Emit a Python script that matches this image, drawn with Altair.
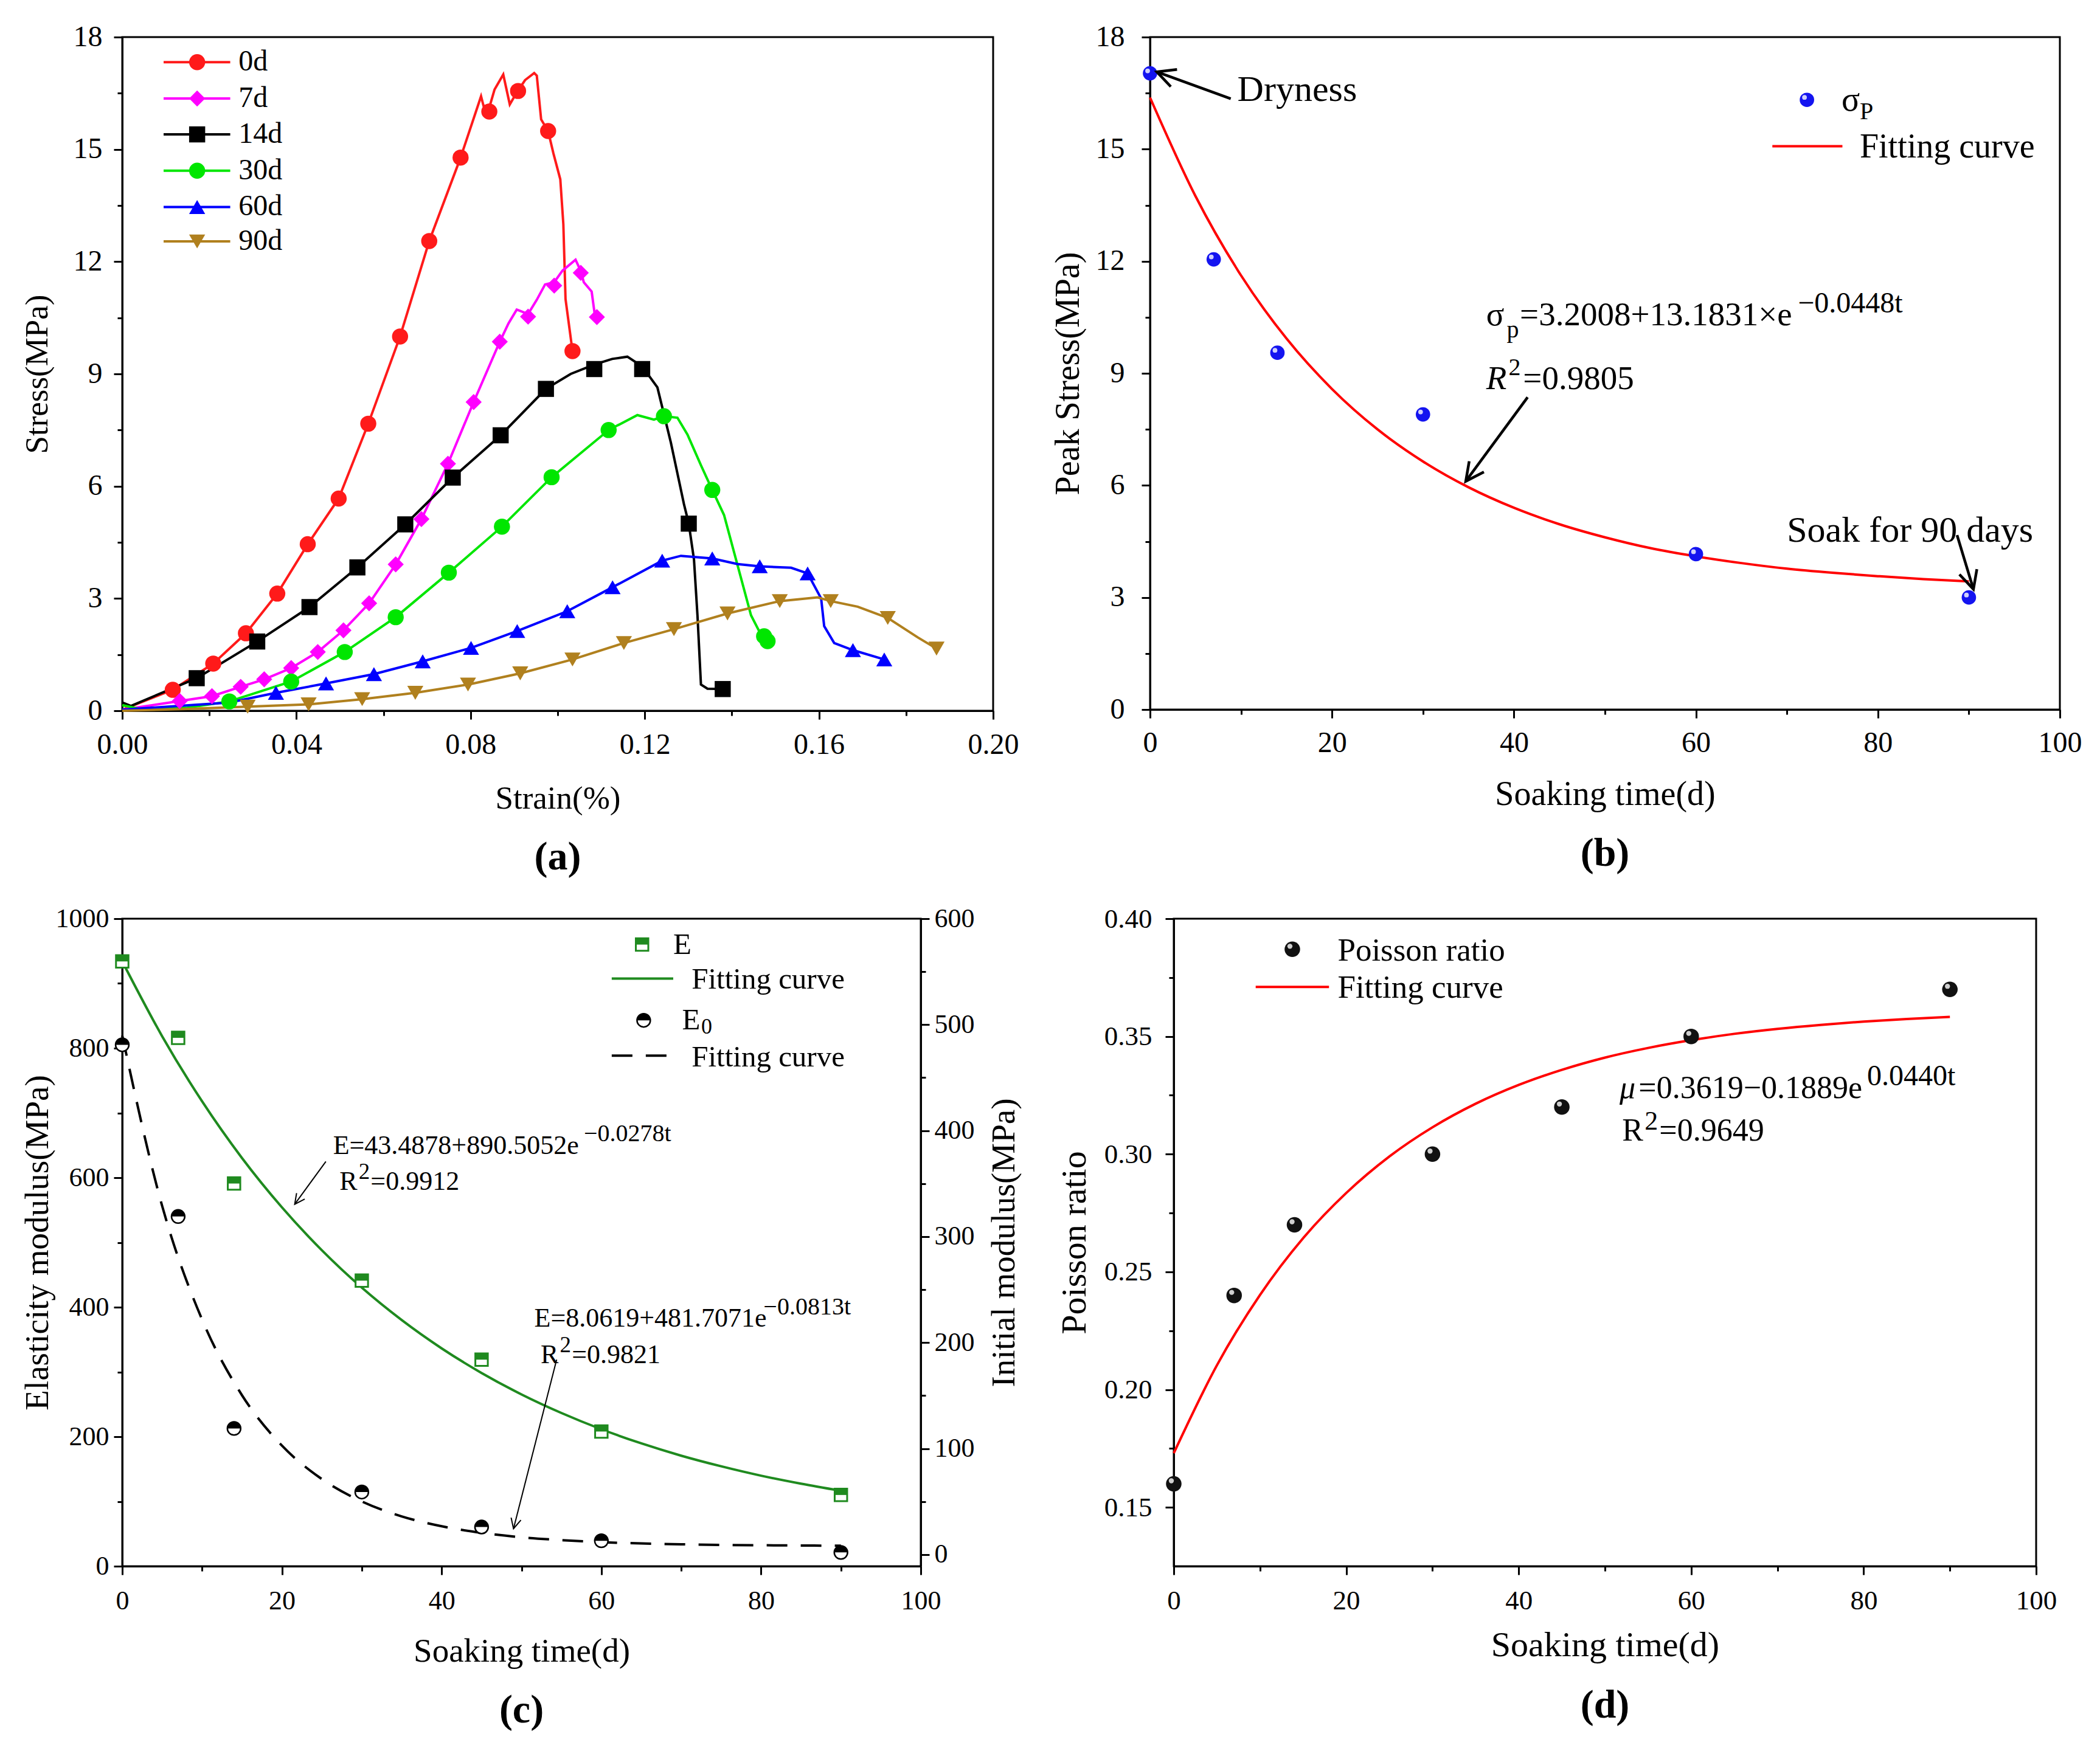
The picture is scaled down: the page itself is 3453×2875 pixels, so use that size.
import json
import math
import altair as alt
import pandas as pd

FONT = "Liberation Serif"
ARROW = "M -1 -0.5 L 0 0 L -1 0.5"
HALF_SQ = "M -1 -1 L 1 -1 L 1 0 L -1 0 Z"
HALF_CI = "M -1 0 A 1 1 0 0 1 1 0 Z"

# ====================== (a) stress-strain data ======================
SERIES = ["0d", "7d", "14d", "30d", "60d", "90d"]
COLORS_A = ["#FF1A1A", "#FF00FF", "#000000", "#00E600", "#0000FF", "#B0801E"]
SHAPES_A = ["circle", "diamond", "square", "circle", "triangle-up", "triangle-down"]

L0 = [(0.0005, 0.05), (0.0116, 0.56), (0.0209, 1.26), (0.0284, 2.07), (0.0356, 3.13), (0.0426, 4.45),
      (0.0497, 5.67), (0.0565, 7.67), (0.0638, 10.0), (0.0705, 12.55), (0.0777, 14.78), (0.0824, 16.42),
      (0.0830, 16.15), (0.0845, 16.2), (0.0855, 16.6), (0.0875, 17.0), (0.0890, 16.2), (0.0905, 16.5),
      (0.0925, 16.85), (0.0946, 17.04), (0.0952, 16.97), (0.0962, 15.8), (0.0978, 15.49), (0.0990, 14.9),
      (0.1006, 14.2), (0.1013, 13.0), (0.1018, 11.0), (0.1034, 9.61)]
M0 = [(0.0116, 0.56), (0.0209, 1.26), (0.0284, 2.07), (0.0356, 3.13), (0.0426, 4.45), (0.0497, 5.67),
      (0.0565, 7.67), (0.0638, 10.0), (0.0705, 12.55), (0.0777, 14.78), (0.0843, 16.01), (0.0909, 16.56),
      (0.0978, 15.49), (0.1034, 9.61)]

L7 = [(0.0, 0.03), (0.0132, 0.26), (0.0206, 0.39), (0.0272, 0.64), (0.0326, 0.84), (0.0388, 1.14),
      (0.0449, 1.57), (0.0508, 2.15), (0.0567, 2.87), (0.0628, 3.91), (0.0687, 5.12), (0.0748, 6.6),
      (0.0807, 8.25), (0.0867, 9.86), (0.0887, 10.35), (0.0906, 10.72), (0.0932, 10.6), (0.0952, 10.98),
      (0.0971, 11.39), (0.0992, 11.45), (0.1011, 11.76), (0.1041, 12.05), (0.1053, 11.75), (0.1060, 11.45),
      (0.1078, 11.2), (0.1085, 10.6), (0.1090, 10.52)]
M7 = [(0.0132, 0.26), (0.0206, 0.39), (0.0272, 0.64), (0.0326, 0.84), (0.0388, 1.14), (0.0449, 1.57),
      (0.0508, 2.15), (0.0567, 2.87), (0.0628, 3.91), (0.0687, 5.12), (0.0748, 6.6), (0.0807, 8.25),
      (0.0867, 9.86), (0.0932, 10.53), (0.0992, 11.36), (0.1053, 11.7), (0.1090, 10.52)]

L14 = [(0.0, 0.22), (0.002, 0.13), (0.0171, 0.87), (0.0310, 1.85), (0.0430, 2.77), (0.0540, 3.83),
       (0.0650, 4.98), (0.0759, 6.23), (0.0869, 7.36), (0.0973, 8.6), (0.1030, 9.0), (0.1084, 9.25),
       (0.1125, 9.4), (0.1160, 9.46), (0.1194, 9.2), (0.1229, 8.64), (0.1260, 7.16), (0.1290, 5.52),
       (0.1301, 5.0), (0.1313, 4.04), (0.1321, 2.55), (0.1329, 0.7), (0.1344, 0.59), (0.1379, 0.58)]
M14 = [(0.0171, 0.87), (0.0310, 1.85), (0.0430, 2.77), (0.0540, 3.83), (0.0650, 4.98), (0.0759, 6.23),
       (0.0869, 7.36), (0.0973, 8.6), (0.1084, 9.13), (0.1194, 9.13), (0.1301, 5.0), (0.1379, 0.58)]

L30 = [(0.0, 0.15), (0.004, 0.05), (0.015, 0.08), (0.0246, 0.25), (0.0388, 0.78), (0.0511, 1.57),
       (0.0628, 2.5), (0.0750, 3.69), (0.0872, 4.92), (0.0986, 6.24), (0.1117, 7.5), (0.1183, 7.9),
       (0.1221, 7.78), (0.1244, 7.87), (0.1275, 7.83), (0.1298, 7.38), (0.1329, 6.56), (0.1355, 5.9),
       (0.1382, 5.23), (0.1413, 3.89), (0.1444, 2.55), (0.1467, 2.03), (0.1482, 1.86)]
M30 = [(0.0246, 0.25), (0.0388, 0.78), (0.0511, 1.57), (0.0628, 2.5), (0.0750, 3.69), (0.0872, 4.92),
       (0.0986, 6.24), (0.1117, 7.5), (0.1244, 7.87), (0.1355, 5.9), (0.1474, 1.99), (0.1482, 1.86)]

L60 = [(0.0, 0.03), (0.0246, 0.22), (0.0353, 0.48), (0.0468, 0.73), (0.0578, 0.98), (0.0690, 1.32),
       (0.0801, 1.68), (0.0907, 2.13), (0.1022, 2.66), (0.1126, 3.3), (0.1240, 4.01), (0.1283, 4.14),
       (0.1355, 4.07), (0.1413, 3.92), (0.1464, 3.86), (0.1536, 3.82), (0.1574, 3.67), (0.1605, 3.0),
       (0.1612, 2.26), (0.1635, 1.81), (0.1678, 1.62), (0.1750, 1.37)]
M60 = [(0.0353, 0.48), (0.0468, 0.73), (0.0578, 0.98), (0.0690, 1.32), (0.0801, 1.68), (0.0907, 2.13),
       (0.1022, 2.66), (0.1126, 3.3), (0.1240, 4.01), (0.1355, 4.07), (0.1464, 3.86), (0.1574, 3.67),
       (0.1678, 1.62), (0.1750, 1.37)]

L90 = [(0.0, 0.0), (0.0150, 0.05), (0.0288, 0.11), (0.0428, 0.17), (0.0551, 0.31), (0.0673, 0.48),
       (0.0794, 0.70), (0.0914, 1.0), (0.1034, 1.37), (0.1152, 1.81), (0.1267, 2.18), (0.1390, 2.6),
       (0.1510, 2.93), (0.1597, 3.03), (0.1627, 2.93), (0.1689, 2.78), (0.1758, 2.48), (0.1827, 1.96),
       (0.1870, 1.66)]
M90 = [(0.0288, 0.11), (0.0428, 0.17), (0.0551, 0.31), (0.0673, 0.48), (0.0794, 0.70), (0.0914, 1.0),
       (0.1034, 1.37), (0.1152, 1.81), (0.1267, 2.18), (0.1390, 2.6), (0.1510, 2.93), (0.1627, 2.93),
       (0.1758, 2.48), (0.1870, 1.66)]

LINES_A = [L0, L7, L14, L30, L60, L90]
MARKS_A = [M0, M7, M14, M30, M60, M90]
LEG_A_Y = [17.33, 16.36, 15.4, 14.43, 13.46, 12.54]

# ====================== (b) peak stress ======================
B_T = [0, 7, 14, 30, 60, 90]
B_S = [17.03, 12.05, 9.55, 7.9, 4.16, 3.0]
FIT_B_T = [0, 5, 10, 15, 20, 25, 30, 35, 40, 45, 50, 55, 60, 65, 70, 75, 80, 85, 90]
FIT_B_S = [16.38, 13.74, 11.62, 9.93, 8.58, 7.50, 6.64, 5.95, 5.40, 4.96, 4.61, 4.32, 4.10, 3.92,
           3.77, 3.66, 3.57, 3.49, 3.43]

# ====================== (c) moduli ======================
C_T = [0, 7, 14, 30, 45, 60, 90]
C_E = [934, 816, 591, 441, 319, 208, 110]
C_E0 = [481, 319, 119, 59, 26, 13, 2]
FIT_C_T = [0, 5, 10, 15, 20, 25, 30, 35, 40, 45, 50, 55, 60, 65, 70, 75, 80, 85, 90]
FIT_E = [934.0, 818.4, 717.9, 630.3, 554.2, 487.9, 430.2, 380.1, 336.4, 298.4, 265.3, 236.6, 211.5,
         189.7, 170.7, 154.3, 139.8, 127.4, 116.4]
FIT_E0 = [489.8, 328.9, 221.7, 150.3, 102.8, 71.2, 50.1, 36.0, 26.7, 20.5, 16.3, 13.6, 11.7, 10.5,
          9.7, 9.1, 8.8, 8.5, 8.4]

# ====================== (d) Poisson ratio ======================
D_T = [0, 7, 14, 30, 45, 60, 90]
D_MU = [0.160, 0.240, 0.270, 0.300, 0.320, 0.350, 0.370]
FIT_D_T = [0, 5, 10, 15, 20, 25, 30, 35, 40, 45, 50, 55, 60, 65, 70, 75, 80, 85, 90]
FIT_MU = [0.173, 0.2103, 0.2402, 0.2643, 0.2835, 0.2990, 0.3114, 0.3214, 0.3294, 0.3358, 0.3410,
          0.3451, 0.3484, 0.3511, 0.3532, 0.3549, 0.3563, 0.3574, 0.3583]


# ---------------------------------------------------------------------
def mk_axis(title, majors, minors, fmt, orient, lab_size, title_size, label_pad,
            title_x, title_y, title_angle=None, major_len=14, minor_len=8):
    vals = sorted(set(majors) | set(minors))
    test = "indexof(%s, datum.value) >= 0" % json.dumps(majors)
    kw = dict(title=title, orient=orient, values=vals,
              labelExpr="%s ? format(datum.value, '%s') : ''" % (test, fmt),
              tickSize={"condition": {"test": test, "value": major_len}, "value": minor_len},
              tickWidth=3, tickColor="black", domainColor="black", domainWidth=3,
              labelFont=FONT, labelFontSize=lab_size, labelColor="black", labelPadding=label_pad,
              labelOverlap=False, labelFlush=False, grid=False,
              titleFont=FONT, titleFontSize=title_size, titleFontWeight="normal", titleColor="black",
              titleBaseline="middle", titleAlign="center", titleX=title_x, titleY=title_y)
    if title_angle is not None:
        kw["titleAngle"] = title_angle
    return alt.Axis(**kw)


def text_layers(rows, X, Y):
    out = []
    for t, x, y, size, style in rows:
        df = pd.DataFrame({"x": [x], "y": [y], "t": [t]})
        out.append(alt.Chart(df).mark_text(align="left", baseline="middle", font=FONT, fontSize=size,
                                           fontStyle=style, color="black")
                   .encode(x=X("x"), y=Y("y"), text="t:N"))
    return out


def arrow_layers(rows, X, Y, px, py, width, head):
    tx, ty, hx, hy, ang = [], [], [], [], []
    for a, b, c, d in rows:
        tx.append(a); ty.append(b); hx.append(c); hy.append(d)
        ang.append(math.degrees(math.atan2(-(d - b) * py, (c - a) * px)) % 360)
    df = pd.DataFrame({"tx": tx, "ty": ty, "hx": hx, "hy": hy, "ang": ang})
    shaft = alt.Chart(df).mark_rule(color="black", strokeWidth=width).encode(
        x=X("tx"), y=Y("ty"), x2="hx:Q", y2="hy:Q")
    tip = alt.Chart(df).mark_point(shape=ARROW, filled=False, color="black", strokeWidth=width,
                                   size=head, opacity=1).encode(
        x=X("hx"), y=Y("hy"), angle=alt.Angle("ang:Q", scale=None))
    return [shaft, tip]


def caption(s):
    return alt.TitleParams(s, orient="bottom", font=FONT, fontSize=66, fontWeight="bold",
                           offset=38, color="black")


# ====================== panel (a) ======================
WA, HA = 1432, 1108
XA_SCALE = alt.Scale(domain=[0, 0.2], nice=False, zero=False)
YA_SCALE = alt.Scale(domain=[0, 18], nice=False, zero=False)
XA_AXIS = mk_axis("Strain(%)", [0, 0.04, 0.08, 0.12, 0.16, 0.2], [0.02, 0.06, 0.1, 0.14, 0.18],
                  ".2f", "bottom", 48, 53, 18, WA / 2, 144)
YA_AXIS = mk_axis("Stress(MPa)", [0, 3, 6, 9, 12, 15, 18], [1.5, 4.5, 7.5, 10.5, 13.5, 16.5],
                  "d", "left", 48, 53, 19, -140, HA / 2, 270)
XA = lambda f: alt.X(f + ":Q", scale=XA_SCALE, axis=XA_AXIS)
YA = lambda f: alt.Y(f + ":Q", scale=YA_SCALE, axis=YA_AXIS)
COLOR_A = alt.Color("series:N", scale=alt.Scale(domain=SERIES, range=COLORS_A), legend=None)
SHAPE_A = alt.Shape("series:N", scale=alt.Scale(domain=SERIES, range=SHAPES_A), legend=None)

rows_l, rows_m = [], []
for s, ln, mk in zip(SERIES, LINES_A, MARKS_A):
    for i, (x, y) in enumerate(ln):
        rows_l.append({"series": s, "i": i, "x": x, "y": y})
    for x, y in mk:
        rows_m.append({"series": s, "x": x, "y": y})
df_al = pd.DataFrame(rows_l)
df_am = pd.DataFrame(rows_m)
df_aleg = pd.DataFrame({"series": SERIES, "ly": LEG_A_Y, "x1": [0.0095] * 6, "x2": [0.0248] * 6,
                        "xm": [0.0172] * 6, "xt": [0.0267] * 6})

a_layers = [
    alt.Chart(df_al).mark_line(strokeWidth=4).encode(x=XA("x"), y=YA("y"), color=COLOR_A,
                                                     detail="series:N", order="i:Q"),
    alt.Chart(df_am).mark_point(filled=True, size=700, opacity=1).encode(
        x=XA("x"), y=YA("y"), color=COLOR_A, shape=SHAPE_A),
    alt.Chart(df_aleg).mark_rule(strokeWidth=4).encode(x=XA("x1"), x2="x2:Q", y=YA("ly"), color=COLOR_A),
    alt.Chart(df_aleg).mark_point(filled=True, size=700, opacity=1).encode(
        x=XA("xm"), y=YA("ly"), color=COLOR_A, shape=SHAPE_A),
    alt.Chart(df_aleg).mark_text(align="left", baseline="middle", font=FONT, fontSize=48,
                                 color="black").encode(x=XA("xt"), y=YA("ly"), text="series:N"),
]
A = alt.layer(*a_layers).properties(width=WA, height=HA, title=caption("(a)"))

# ====================== panel (b) ======================
WB, HB = 1496, 1106
XB_SCALE = alt.Scale(domain=[0, 100], nice=False, zero=False)
YB_SCALE = alt.Scale(domain=[0, 18], nice=False, zero=False)
XB_AXIS = mk_axis("Soaking time(d)", [0, 20, 40, 60, 80, 100], [10, 30, 50, 70, 90],
                  "d", "bottom", 48, 56, 17, WB / 2, 139)
YB_AXIS = mk_axis("Peak Stress(MPa)", [0, 3, 6, 9, 12, 15, 18], [1.5, 4.5, 7.5, 10.5, 13.5, 16.5],
                  "d", "left", 48, 56, 28, -135, HB / 2, 270)
XB = lambda f: alt.X(f + ":Q", scale=XB_SCALE, axis=XB_AXIS)
YB = lambda f: alt.Y(f + ":Q", scale=YB_SCALE, axis=YB_AXIS)
BLUE = "#1414F0"
df_b = pd.DataFrame({"t": B_T, "s": B_S})
df_bf = pd.DataFrame({"t": FIT_B_T, "s": FIT_B_S})
df_bleg_pt = pd.DataFrame({"t": [72.2], "s": [16.32]})
df_bleg_ln = pd.DataFrame({"t1": [68.4], "t2": [76.1], "s": [15.08]})

B_TEXT = [
    ("Dryness", 9.6, 16.58, 60, "normal"),
    ("σ", 36.95, 10.56, 55, "normal"),
    ("p", 39.2, 10.15, 40, "normal"),
    ("=3.2008+13.1831×e", 40.65, 10.56, 55, "normal"),
    ("−0.0448t", 71.2, 10.85, 48, "normal"),
    ("R", 36.95, 8.86, 55, "italic"),
    ("2", 39.4, 9.15, 40, "normal"),
    ("=0.9805", 41.0, 8.86, 55, "normal"),
    ("Soak for 90 days", 70.0, 4.79, 60, "normal"),
    ("σ", 76.0, 16.3, 56, "normal"),
    ("P", 78.0, 16.0, 40, "normal"),
    ("Fitting curve", 78.0, 15.05, 56, "normal"),
]
B_ARROWS = [(8.87, 16.35, 0.74, 17.07), (41.5, 8.36, 34.7, 6.11), (88.7, 4.67, 90.5, 3.22)]

b_layers = [
    alt.Chart(df_bf).mark_line(color="#FF0000", strokeWidth=4, interpolate="monotone").encode(
        x=XB("t"), y=YB("s")),
    alt.Chart(df_b).mark_point(filled=True, color=BLUE, size=560, opacity=1).encode(x=XB("t"), y=YB("s")),
    alt.Chart(df_b).mark_point(filled=True, color="white", size=60, opacity=0.8, xOffset=-4,
                               yOffset=-4).encode(x=XB("t"), y=YB("s")),
    alt.Chart(df_bleg_pt).mark_point(filled=True, color=BLUE, size=560, opacity=1).encode(
        x=XB("t"), y=YB("s")),
    alt.Chart(df_bleg_pt).mark_point(filled=True, color="white", size=60, opacity=0.8, xOffset=-4,
                                     yOffset=-4).encode(x=XB("t"), y=YB("s")),
    alt.Chart(df_bleg_ln).mark_rule(color="#FF0000", strokeWidth=4).encode(
        x=XB("t1"), x2="t2:Q", y=YB("s")),
] + text_layers(B_TEXT, XB, YB) + arrow_layers(B_ARROWS, XB, YB, WB / 100, HB / 18, 4.5, 3600)
B = alt.layer(*b_layers).properties(width=WB, height=HB, title=caption("(b)"))

# ====================== panel (c) ======================
WC, HC = 1313, 1065
GREEN = "#1F8A1F"
XC_SCALE = alt.Scale(domain=[0, 100], nice=False, zero=False)
YCL_SCALE = alt.Scale(domain=[0, 1000], nice=False, zero=False)
YCR_SCALE = alt.Scale(domain=[-11, 600], nice=False, zero=False)
XC_AXIS = mk_axis("Soaking time(d)", [0, 20, 40, 60, 80, 100], [10, 30, 50, 70, 90],
                  "d", "bottom", 44, 55, 21, WC / 2, 139)
YCL_AXIS = mk_axis("Elasticity modulus(MPa)", [0, 200, 400, 600, 800, 1000], [100, 300, 500, 700, 900],
                   "d", "left", 44, 55, 8, -140, HC / 2, 270)
YCR_AXIS = mk_axis("Initial modulus(MPa)", [0, 100, 200, 300, 400, 500, 600],
                   [50, 150, 250, 350, 450, 550], "d", "right", 44, 55, 8, 136, HC / 2, 270)
XC = lambda f: alt.X(f + ":Q", scale=XC_SCALE, axis=XC_AXIS)
YCL = lambda f: alt.Y(f + ":Q", scale=YCL_SCALE, axis=YCL_AXIS)
YCR = lambda f: alt.Y(f + ":Q", scale=YCR_SCALE, axis=YCR_AXIS)

df_c = pd.DataFrame({"t": C_T, "E": C_E, "E0": C_E0})
df_cf = pd.DataFrame({"t": FIT_C_T, "E": FIT_E, "E0": FIT_E0})
df_cleg_e = pd.DataFrame({"t": [65.1], "E": [960]})
df_cleg_e0 = pd.DataFrame({"t": [65.3], "E": [843]})
df_cleg_l1 = pd.DataFrame({"t1": [61.3], "t2": [69.0], "E": [907.5]})
df_cleg_l2 = pd.DataFrame({"t1": [61.3], "t2": [69.0], "E": [788.5]})

C_TEXT = [
    ("E", 69.0, 960, 49, "normal"),
    ("Fitting curve", 71.3, 906, 49, "normal"),
    ("E", 70.1, 843, 49, "normal"),
    ("0", 72.5, 833, 36, "normal"),
    ("Fitting curve", 71.3, 786, 49, "normal"),
    ("E=43.4878+890.5052e", 26.4, 649, 44, "normal"),
    ("−0.0278t", 57.8, 668, 40, "normal"),
    ("R", 27.2, 593, 44, "normal"),
    ("2", 29.6, 608, 37, "normal"),
    ("=0.9912", 31.1, 593, 44, "normal"),
    ("E=8.0619+481.7071e", 51.6, 382, 44, "normal"),
    ("−0.0813t", 80.3, 400, 40, "normal"),
    ("R", 52.4, 326, 44, "normal"),
    ("2", 54.8, 341, 37, "normal"),
    ("=0.9821", 56.3, 326, 44, "normal"),
]
C_ARROWS = [(25.5, 625, 21.6, 559), (54.4, 319, 49.0, 58)]


def half_square(df, X, Y, size):
    return [
        alt.Chart(df).mark_point(shape="square", filled=True, fill="white", stroke=GREEN, strokeWidth=3,
                                 size=size, opacity=1, fillOpacity=1).encode(x=X("t"), y=Y("E")),
        alt.Chart(df).mark_point(shape=HALF_SQ, filled=True, color=GREEN, size=size, opacity=1).encode(
            x=X("t"), y=Y("E")),
    ]


def half_circle(df, X, Y, field, size):
    return [
        alt.Chart(df).mark_point(shape="circle", filled=True, fill="white", stroke="black", strokeWidth=2.5,
                                 size=size, opacity=1, fillOpacity=1).encode(x=X("t"), y=Y(field)),
        alt.Chart(df).mark_point(shape=HALF_CI, filled=True, color="black", size=size, opacity=1).encode(
            x=X("t"), y=Y(field)),
    ]


c_left = [
    alt.Chart(df_cf).mark_line(color=GREEN, strokeWidth=4, interpolate="monotone").encode(
        x=XC("t"), y=YCL("E")),
] + half_square(df_c, XC, YCL, 420) + half_square(df_cleg_e, XC, YCL, 420) + half_circle(
    df_cleg_e0, XC, YCL, "E", 480) + [
    alt.Chart(df_cleg_l1).mark_rule(color=GREEN, strokeWidth=4).encode(x=XC("t1"), x2="t2:Q", y=YCL("E")),
    alt.Chart(df_cleg_l2).mark_rule(color="black", strokeWidth=4, strokeDash=[34, 22]).encode(
        x=XC("t1"), x2="t2:Q", y=YCL("E")),
] + text_layers(C_TEXT, XC, YCL) + arrow_layers(C_ARROWS, XC, YCL, WC / 100, HC / 1000, 2, 1100)

c_right = [
    alt.Chart(df_cf).mark_line(color="black", strokeWidth=4, strokeDash=[34, 22],
                               interpolate="monotone").encode(x=XC("t"), y=YCR("E0")),
] + half_circle(df_c, XC, YCR, "E0", 480)

C = alt.layer(alt.layer(*c_left), alt.layer(*c_right)).resolve_scale(y="independent").properties(
    width=WC, height=HC, title=caption("(c)"))

# ====================== panel (d) ======================
WD, HD = 1418, 1065
XD_SCALE = alt.Scale(domain=[0, 100], nice=False, zero=False)
YD_SCALE = alt.Scale(domain=[0.125, 0.40], nice=False, zero=False)
XD_AXIS = mk_axis("Soaking time(d)", [0, 20, 40, 60, 80, 100], [10, 30, 50, 70, 90],
                  "d", "bottom", 45, 58, 20, WD / 2, 130)
YD_AXIS = mk_axis("Poisson ratio", [0.15, 0.2, 0.25, 0.3, 0.35, 0.4],
                  [0.175, 0.225, 0.275, 0.325, 0.375], ".2f", "left", 45, 58, 22, -163, HD / 2, 270)
XD = lambda f: alt.X(f + ":Q", scale=XD_SCALE, axis=XD_AXIS)
YD = lambda f: alt.Y(f + ":Q", scale=YD_SCALE, axis=YD_AXIS)
df_d = pd.DataFrame({"t": D_T, "mu": D_MU})
df_df = pd.DataFrame({"t": FIT_D_T, "mu": FIT_MU})
df_dleg_pt = pd.DataFrame({"t": [13.75], "mu": [0.387]})
df_dleg_ln = pd.DataFrame({"t1": [9.5], "t2": [18.0], "mu": [0.371]})
D_TEXT = [
    ("Poisson ratio", 19.0, 0.3864, 53, "normal"),
    ("Fitting curve", 19.0, 0.3705, 53, "normal"),
    ("μ", 51.7, 0.328, 52, "italic"),
    ("=0.3619−0.1889e", 53.9, 0.328, 52, "normal"),
    ("0.0440t", 80.4, 0.3328, 48, "normal"),
    ("R", 52.0, 0.310, 52, "normal"),
    ("2", 54.6, 0.3138, 44, "normal"),
    ("=0.9649", 56.3, 0.310, 52, "normal"),
]
d_layers = [
    alt.Chart(df_df).mark_line(color="#FF0000", strokeWidth=4, interpolate="monotone").encode(
        x=XD("t"), y=YD("mu")),
    alt.Chart(df_d).mark_point(filled=True, color="#111111", size=650, opacity=1).encode(
        x=XD("t"), y=YD("mu")),
    alt.Chart(df_d).mark_point(filled=True, color="white", size=70, opacity=0.8, xOffset=-4,
                               yOffset=-5).encode(x=XD("t"), y=YD("mu")),
    alt.Chart(df_dleg_pt).mark_point(filled=True, color="#111111", size=650, opacity=1).encode(
        x=XD("t"), y=YD("mu")),
    alt.Chart(df_dleg_pt).mark_point(filled=True, color="white", size=70, opacity=0.8, xOffset=-4,
                                     yOffset=-5).encode(x=XD("t"), y=YD("mu")),
    alt.Chart(df_dleg_ln).mark_rule(color="#FF0000", strokeWidth=4).encode(
        x=XD("t1"), x2="t2:Q", y=YD("mu")),
] + text_layers(D_TEXT, XD, YD)
D = alt.layer(*d_layers).properties(width=WD, height=HD, title=caption("(d)"))

# ====================== layout ======================
row1 = alt.hconcat(A, B, spacing=49)
row2 = alt.hconcat(C, D, spacing=56)
chart = alt.vconcat(row1, row2, spacing=42).properties(
    padding={"left": 24, "top": 27, "right": 0, "bottom": 0}, background="white"
).configure_view(stroke="black", strokeWidth=3)

chart.save("out.html", embed_options={"renderer": "svg", "actions": False})
